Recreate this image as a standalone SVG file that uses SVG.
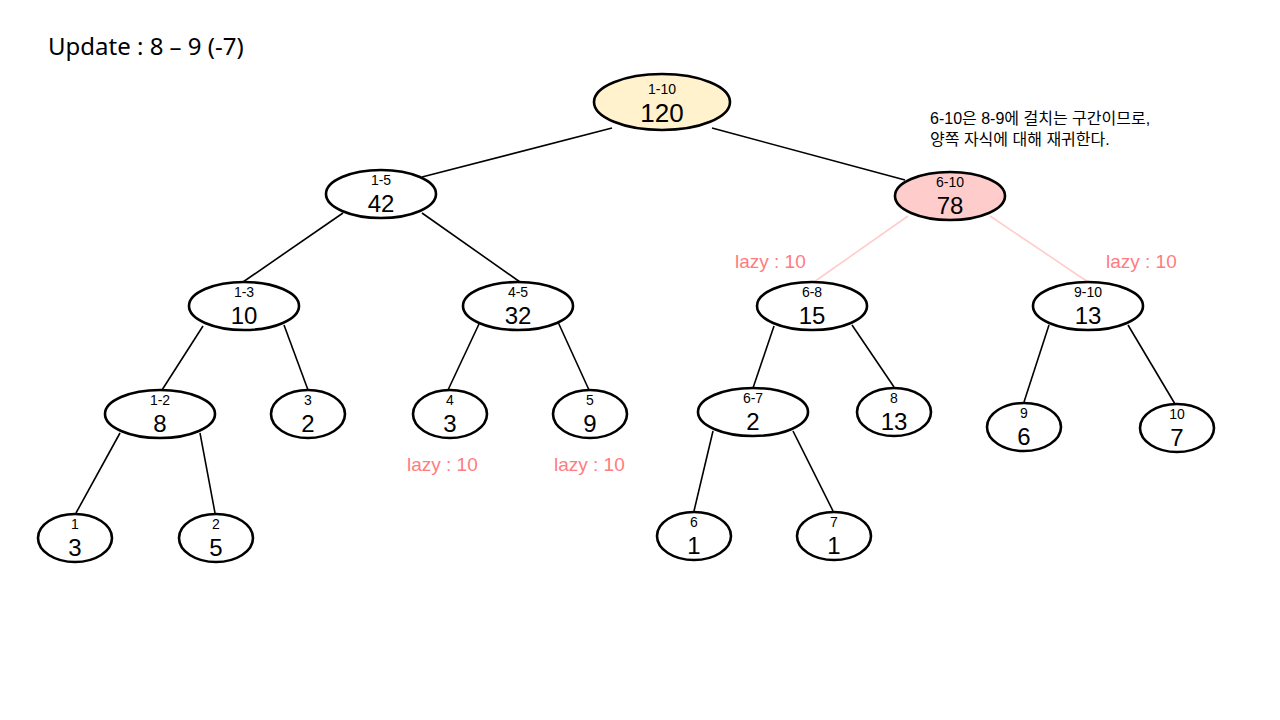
<svg xmlns="http://www.w3.org/2000/svg" width="1280" height="720" viewBox="0 0 1280 720">
<style>
text{font-family:"Liberation Sans","Noto Sans CJK KR",sans-serif;fill:#000}
.n{fill:#fff;stroke:#000;stroke-width:2.6}
.lb{font-size:14px;text-anchor:middle}
.v{font-size:24px;text-anchor:middle}
.e{stroke:#000;stroke-width:1.6;fill:none}
.p{stroke:#FFCCCC;stroke-width:1.6;fill:none}
.lz{font-size:19px;fill:#FF7C80}
.note{font-size:16px}
</style>
<rect width="1280" height="720" fill="#fff"/>
<text x="48" y="55" style="font-family:'Noto Sans',sans-serif;font-size:24px">Update : 8 – 9 (-7)</text>
<text class="note" x="930" y="124">6-10은 8-9에 걸치는 구간이므로,</text>
<text class="note" x="930" y="145">양쪽 자식에 대해 재귀한다.</text>
<g id="connectors">
<line class="e" x1="612" y1="128" x2="422" y2="177"/>
<line class="e" x1="712" y1="128" x2="905" y2="180"/>
<line class="e" x1="343" y1="213" x2="243" y2="282"/>
<line class="e" x1="422" y1="213" x2="520" y2="282"/>
<line class="p" x1="908" y1="216" x2="814" y2="282"/>
<line class="p" x1="990" y1="216" x2="1088" y2="282"/>
<line class="e" x1="203" y1="326" x2="162" y2="390"/>
<line class="e" x1="284" y1="325" x2="308" y2="390"/>
<line class="e" x1="479" y1="324" x2="448" y2="390"/>
<line class="e" x1="558" y1="322" x2="589" y2="390"/>
<line class="e" x1="774" y1="326" x2="753" y2="388"/>
<line class="e" x1="852" y1="325" x2="894" y2="387"/>
<line class="e" x1="1049" y1="325" x2="1024" y2="402"/>
<line class="e" x1="1128" y1="325" x2="1175" y2="404"/>
<line class="e" x1="120" y1="433" x2="76" y2="513"/>
<line class="e" x1="200" y1="433" x2="215" y2="513"/>
<line class="e" x1="713" y1="431" x2="694" y2="511"/>
<line class="e" x1="793" y1="431" x2="833" y2="511"/>
</g>
<g id="n1-10"><ellipse class="n" cx="662" cy="102" rx="68" ry="28" style="fill:#FFF2CC"/><text class="lb" x="662" y="94">1-10</text><text class="v" x="662" y="122" style="font-size:26px">120</text></g>
<g id="n1-5"><ellipse class="n" cx="381" cy="194" rx="55" ry="24"/><text class="lb" x="381" y="185">1-5</text><text class="v" x="381" y="212">42</text></g>
<g id="n6-10"><ellipse class="n" cx="950" cy="196" rx="55" ry="24" style="fill:#FFCCCC"/><text class="lb" x="950" y="187">6-10</text><text class="v" x="950" y="214">78</text></g>
<g id="n1-3"><ellipse class="n" cx="244" cy="306" rx="55" ry="24"/><text class="lb" x="244" y="297">1-3</text><text class="v" x="244" y="324">10</text></g>
<g id="n4-5"><ellipse class="n" cx="518" cy="306" rx="55" ry="24"/><text class="lb" x="518" y="297">4-5</text><text class="v" x="518" y="324">32</text></g>
<g id="n6-8"><ellipse class="n" cx="812" cy="306" rx="55" ry="24"/><text class="lb" x="812" y="297">6-8</text><text class="v" x="812" y="324">15</text></g>
<g id="n9-10"><ellipse class="n" cx="1088" cy="306" rx="55" ry="24"/><text class="lb" x="1088" y="297">9-10</text><text class="v" x="1088" y="324">13</text></g>
<g id="n1-2"><ellipse class="n" cx="160" cy="414" rx="55" ry="24"/><text class="lb" x="160" y="405">1-2</text><text class="v" x="160" y="432">8</text></g>
<g id="n3"><ellipse class="n" cx="308" cy="414" rx="37" ry="24"/><text class="lb" x="308" y="405">3</text><text class="v" x="308" y="432">2</text></g>
<g id="n4"><ellipse class="n" cx="450" cy="414" rx="37" ry="24"/><text class="lb" x="450" y="405">4</text><text class="v" x="450" y="432">3</text></g>
<g id="n5"><ellipse class="n" cx="590" cy="414" rx="37" ry="24"/><text class="lb" x="590" y="405">5</text><text class="v" x="590" y="432">9</text></g>
<g id="n6-7"><ellipse class="n" cx="753" cy="412" rx="55" ry="24"/><text class="lb" x="753" y="403">6-7</text><text class="v" x="753" y="430">2</text></g>
<g id="n8"><ellipse class="n" cx="894" cy="412" rx="37" ry="24"/><text class="lb" x="894" y="403">8</text><text class="v" x="894" y="430">13</text></g>
<g id="n9"><ellipse class="n" cx="1024" cy="427" rx="37" ry="24"/><text class="lb" x="1024" y="418">9</text><text class="v" x="1024" y="445">6</text></g>
<g id="n10"><ellipse class="n" cx="1177" cy="428" rx="37" ry="24"/><text class="lb" x="1177" y="419">10</text><text class="v" x="1177" y="446">7</text></g>
<g id="n1"><ellipse class="n" cx="75" cy="538" rx="37" ry="24"/><text class="lb" x="75" y="529">1</text><text class="v" x="75" y="556">3</text></g>
<g id="n2"><ellipse class="n" cx="216" cy="538" rx="37" ry="24"/><text class="lb" x="216" y="529">2</text><text class="v" x="216" y="556">5</text></g>
<g id="n6"><ellipse class="n" cx="694" cy="536" rx="37" ry="24"/><text class="lb" x="694" y="527">6</text><text class="v" x="694" y="554">1</text></g>
<g id="n7"><ellipse class="n" cx="834" cy="536" rx="37" ry="24"/><text class="lb" x="834" y="527">7</text><text class="v" x="834" y="554">1</text></g>
<g id="lazy">
<text class="lz" x="735" y="268">lazy : 10</text>
<text class="lz" x="1106" y="268">lazy : 10</text>
<text class="lz" x="407" y="471">lazy : 10</text>
<text class="lz" x="554" y="471">lazy : 10</text>
</g>
</svg>
